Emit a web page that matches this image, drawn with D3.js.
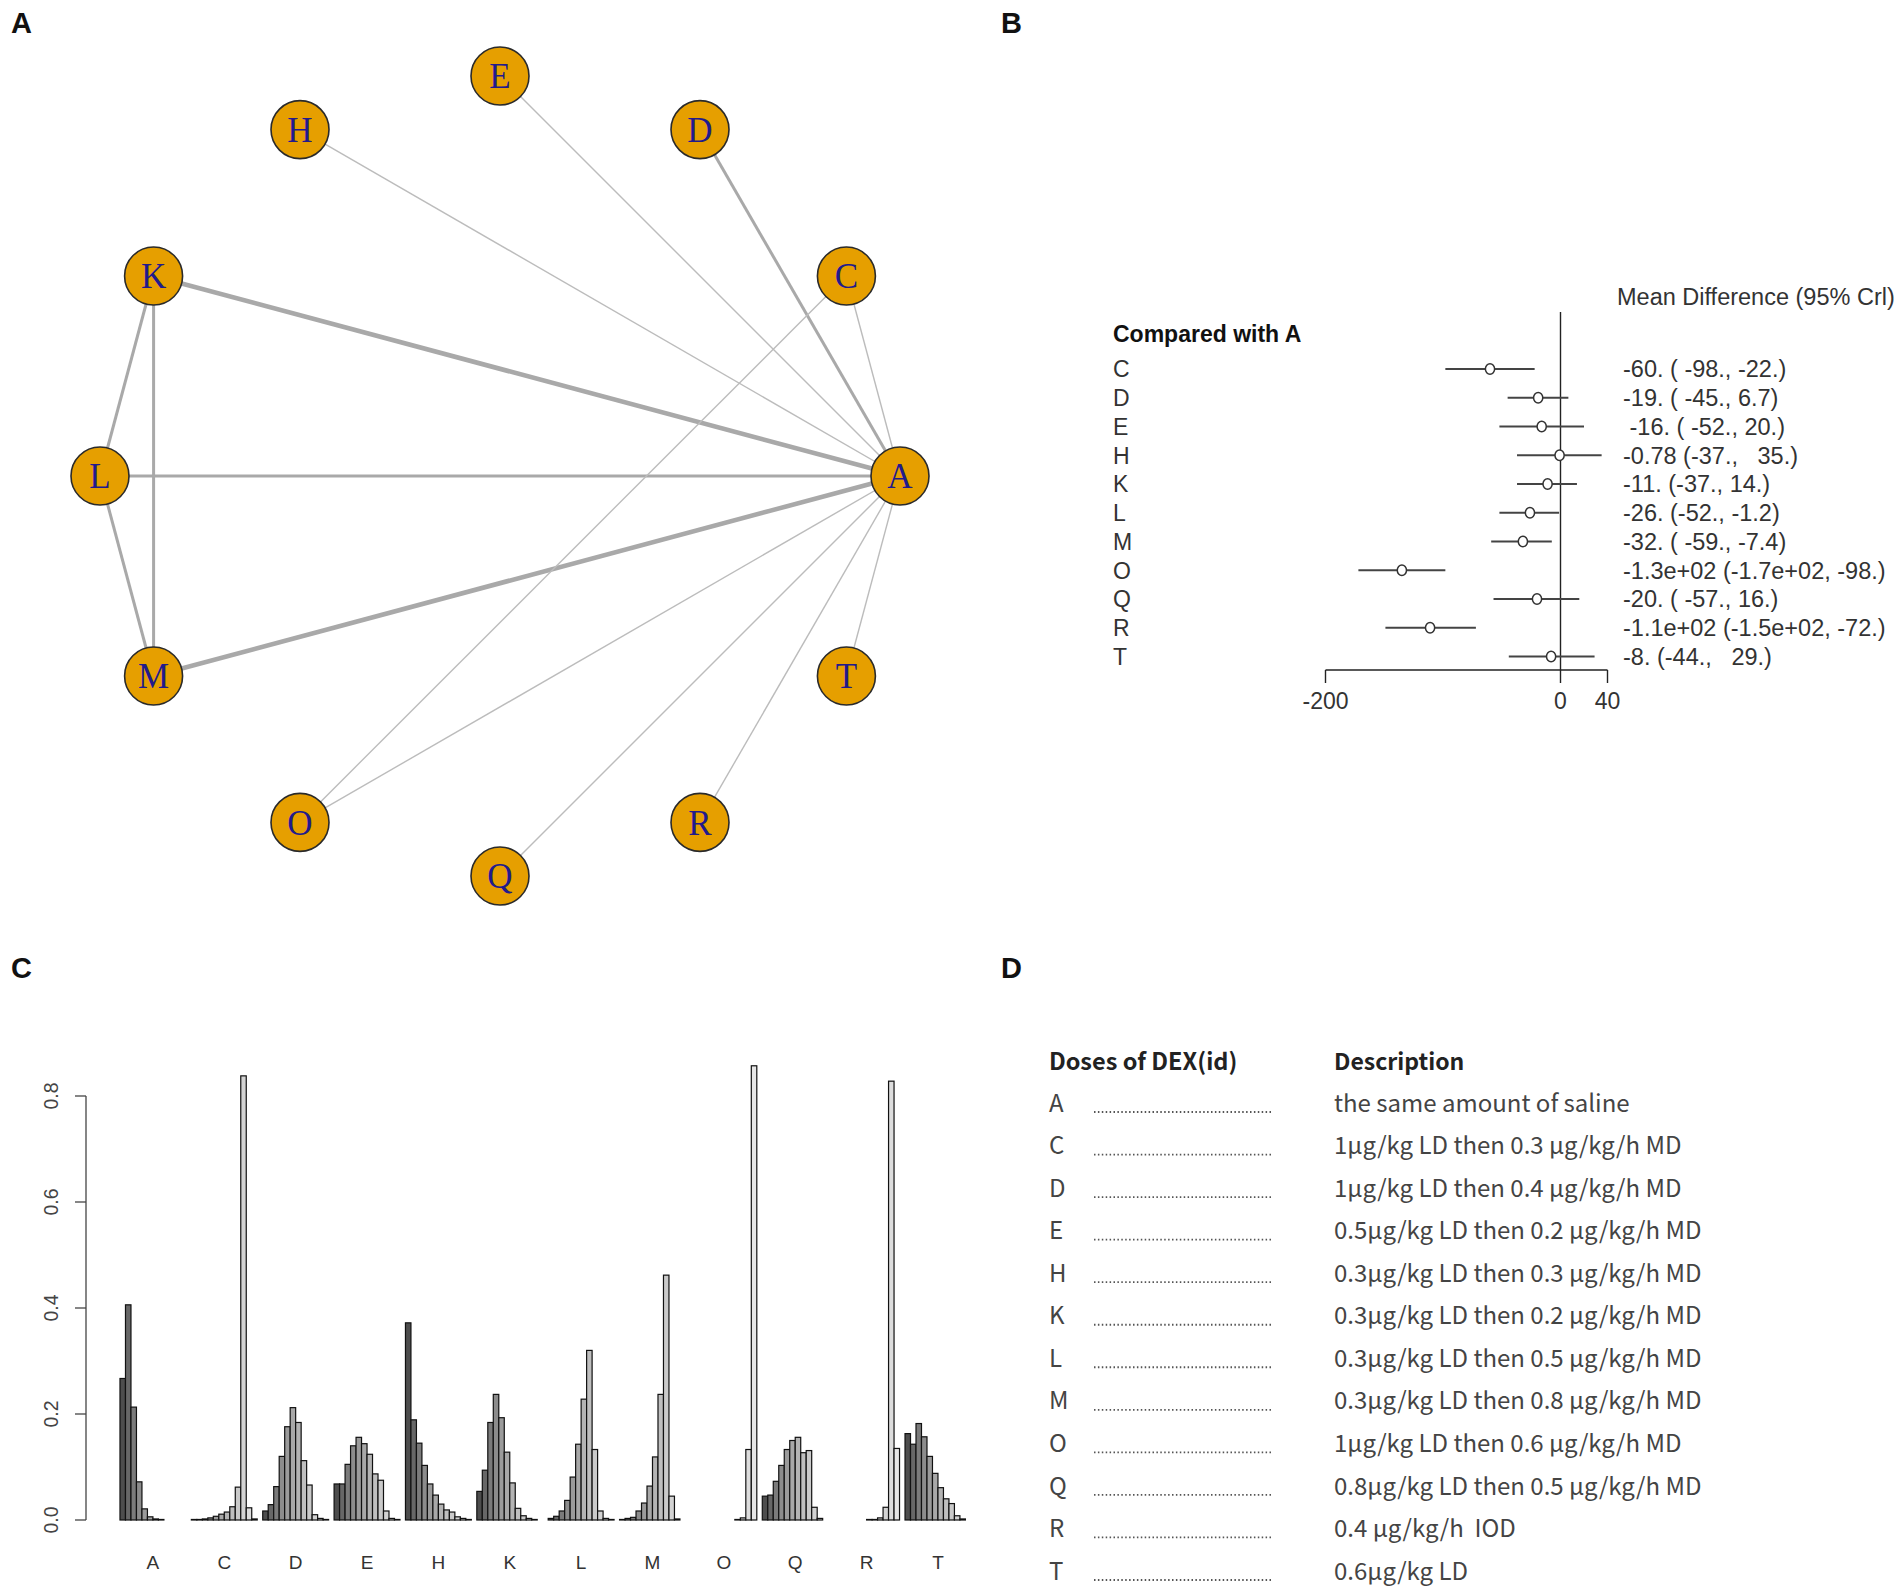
<!DOCTYPE html>
<html>
<head>
<meta charset="utf-8">
<script src="https://cdn.jsdelivr.net/npm/d3@7"></script>
<style>
  html, body { margin: 0; padding: 0; background: #fff; }
  svg text { white-space: pre; }
</style>
</head>
<body>
<svg id="chart" width="1902" height="1590"></svg>
<script>
// ---------------- DATA ----------------
// Panel A: network
const treatments = ["A","C","D","E","H","K","L","M","O","Q","R","T"];
const edgeFrom    = ["A","A","A","A","A","A","A","A","A","A","A","C","K","K","L"];
const edgeTo      = ["C","D","E","H","K","L","M","O","Q","R","T","O","L","M","M"];
const edgeStudies = [ 1,  2,  1,  1,  3,  2,  3,  1,  1,  1,  1,  1,  2,  2,  2 ];

// Panel B: forest plot (mean difference vs A)
const forestTreat = ["C","D","E","H","K","L","M","O","Q","R","T"];
const forestMean  = [-60, -19, -16, -0.78, -11, -26, -32, -135, -20, -111, -8];
const forestLow   = [-98, -45, -52, -37, -37, -52, -59, -172, -57, -149, -44];
const forestHigh  = [-22, 6.7, 20, 35, 14, -1.2, -7.4, -98, 16, -72, 29];
const forestText  = ["-60. ( -98., -22.)", "-19. ( -45., 6.7)", " -16. ( -52., 20.)",
  "-0.78 (-37.,   35.)", "-11. (-37., 14.)", "-26. (-52., -1.2)", "-32. ( -59., -7.4)",
  "-1.3e+02 (-1.7e+02, -98.)", "-20. ( -57., 16.)", "-1.1e+02 (-1.5e+02, -72.)", "-8. (-44.,   29.)"];
const forestTicks = [-200, 0, 40];

// Panel C: rank probabilities (ranks 1..12) per treatment
const rankA = [0.267, 0.406, 0.213, 0.072, 0.021, 0.006, 0.002, 0.001, 0, 0, 0, 0];
const rankC = [0.001, 0.001, 0.002, 0.004, 0.007, 0.011, 0.015, 0.025, 0.062, 0.838, 0.023, 0.002];
const rankD = [0.017, 0.029, 0.063, 0.120, 0.176, 0.212, 0.184, 0.112, 0.066, 0.010, 0.003, 0.001];
const rankE = [0.068, 0.068, 0.105, 0.140, 0.156, 0.144, 0.124, 0.087, 0.075, 0.017, 0.003, 0.001];
const rankH = [0.372, 0.189, 0.145, 0.103, 0.068, 0.047, 0.030, 0.019, 0.015, 0.006, 0.003, 0.001];
const rankK = [0.054, 0.094, 0.184, 0.237, 0.193, 0.128, 0.070, 0.022, 0.008, 0.003, 0.001, 0];
const rankL = [0.003, 0.007, 0.017, 0.037, 0.081, 0.143, 0.228, 0.320, 0.133, 0.017, 0.003, 0.001];
const rankM = [0.001, 0.003, 0.005, 0.017, 0.032, 0.064, 0.119, 0.237, 0.462, 0.045, 0.002, 0];
const rankO = [0, 0, 0, 0, 0, 0, 0, 0, 0.001, 0.004, 0.133, 0.857];
const rankQ = [0.045, 0.047, 0.073, 0.103, 0.133, 0.150, 0.156, 0.127, 0.131, 0.024, 0.003, 0];
const rankR = [0, 0, 0, 0, 0, 0, 0.001, 0.001, 0.004, 0.024, 0.828, 0.135];
const rankT = [0.163, 0.143, 0.182, 0.157, 0.120, 0.088, 0.061, 0.040, 0.031, 0.008, 0.002, 0];
const yTicks = [0, 0.2, 0.4, 0.6, 0.8];

// Panel D: dose descriptions
const doseIds = ["A","C","D","E","H","K","L","M","O","Q","R","T"];
const doseDesc = ["the same amount of saline",
  "1μg/kg LD then 0.3 μg/kg/h MD",
  "1μg/kg LD then 0.4 μg/kg/h MD",
  "0.5μg/kg LD then 0.2 μg/kg/h MD",
  "0.3μg/kg LD then 0.3 μg/kg/h MD",
  "0.3μg/kg LD then 0.2 μg/kg/h MD",
  "0.3μg/kg LD then 0.5 μg/kg/h MD",
  "0.3μg/kg LD then 0.8 μg/kg/h MD",
  "1μg/kg LD then 0.6 μg/kg/h MD",
  "0.8μg/kg LD then 0.5 μg/kg/h MD",
  "0.4 μg/kg/h  IOD",
  "0.6μg/kg LD"];

// ---------------- DRAW ----------------
const svg = d3.select("#chart");
svg.append("rect").attr("width", 1902).attr("height", 1590).attr("fill", "#fff");
const SANS = "'Liberation Sans', Arial, sans-serif";

// panel letters
const panelLetters = [["A", 11, 33], ["B", 1001, 33], ["C", 11, 978], ["D", 1001, 978]];
svg.selectAll("text.panel").data(panelLetters).join("text")
  .attr("class", "panel")
  .attr("x", d => d[1])
  .attr("y", d => d[2])
  .attr("font-family", SANS).attr("font-weight", "bold").attr("font-size", 29)
  .attr("fill", "#111")
  .text(d => d[0]);

// ---- Panel A: network ----
const gA = svg.append("g");
const cx = 500, cy = 476, R = 400;
const angle = d3.scaleLinear().domain([0, treatments.length]).range([0, 2 * Math.PI]);
const pos = {};
treatments.forEach((t, i) => {
  pos[t] = [cx + R * Math.cos(angle(i)), cy - R * Math.sin(angle(i))];
});
const wScale = d3.scaleLinear().domain([1, 3]).range([1.4, 4.6]);
const edges = edgeFrom.map((f, i) => ({ f, t: edgeTo[i], n: edgeStudies[i] }));
gA.selectAll("line.edge").data(edges).join("line")
  .attr("class", "edge")
  .attr("x1", d => pos[d.f][0]).attr("y1", d => pos[d.f][1])
  .attr("x2", d => pos[d.t][0]).attr("y2", d => pos[d.t][1])
  .attr("stroke", d => d.n > 1 ? "#a9a9a9" : "#bcbcbc")
  .attr("stroke-width", d => wScale(d.n));
const nodes = gA.selectAll("g.node").data(treatments).join("g")
  .attr("class", "node")
  .attr("transform", d => `translate(${pos[d][0]},${pos[d][1]})`);
nodes.append("circle").attr("r", 29)
  .attr("fill", "#E69F00").attr("stroke", "#2a2a2a").attr("stroke-width", 1.6);
nodes.append("text")
  .attr("text-anchor", "middle").attr("dy", "0.35em")
  .attr("font-family", "'Liberation Serif', 'Times New Roman', serif")
  .attr("font-size", 35).attr("fill", "#221a8c")
  .text(d => d);

// ---- Panel B: forest ----
const gB = svg.append("g");
const fx = d3.scaleLinear().domain([-200, 40]).range([1325.5, 1607.5]);
const fy = d3.scalePoint().domain(forestTreat).range([369, 656.5]);
const axisY = 670;
gB.append("line").attr("x1", fx(0)).attr("x2", fx(0)).attr("y1", 312).attr("y2", axisY)
  .attr("stroke", "#222").attr("stroke-width", 1.4);
gB.append("line").attr("x1", fx(-200)).attr("x2", fx(40)).attr("y1", axisY).attr("y2", axisY)
  .attr("stroke", "#222").attr("stroke-width", 1.4);
gB.selectAll("line.ftick").data(forestTicks).join("line").attr("class", "ftick")
  .attr("x1", d => fx(d)).attr("x2", d => fx(d)).attr("y1", axisY).attr("y2", axisY + 13)
  .attr("stroke", "#222").attr("stroke-width", 1.4);
gB.selectAll("text.ftl").data(forestTicks).join("text").attr("class", "ftl")
  .attr("x", d => fx(d)).attr("y", axisY + 39)
  .attr("text-anchor", "middle").attr("font-family", SANS).attr("font-size", 23).attr("fill", "#333")
  .text(d => d);
gB.append("text").attr("x", 1617).attr("y", 305)
  .attr("font-family", SANS).attr("font-size", 23.5).attr("fill", "#333")
  .text("Mean Difference (95% Crl)");
gB.append("text").attr("x", 1113).attr("y", 342)
  .attr("font-family", SANS).attr("font-weight", "bold").attr("font-size", 23).attr("fill", "#111")
  .text("Compared with A");
const rows = forestTreat.map((t, i) => ({ t, m: forestMean[i], lo: forestLow[i], hi: forestHigh[i], s: forestText[i] }));
gB.selectAll("line.ci").data(rows).join("line").attr("class", "ci")
  .attr("x1", d => fx(d.lo)).attr("x2", d => fx(d.hi))
  .attr("y1", d => fy(d.t)).attr("y2", d => fy(d.t))
  .attr("stroke", "#444").attr("stroke-width", 2);
gB.selectAll("ellipse.pt").data(rows).join("ellipse").attr("class", "pt")
  .attr("cx", d => fx(d.m)).attr("cy", d => fy(d.t)).attr("rx", 4.6).attr("ry", 5.2)
  .attr("fill", "#fff").attr("stroke", "#333").attr("stroke-width", 1.5);
gB.selectAll("text.rl").data(rows).join("text").attr("class", "rl")
  .attr("x", 1113).attr("y", d => fy(d.t)).attr("dy", "0.36em")
  .attr("font-family", SANS).attr("font-size", 23).attr("fill", "#333")
  .text(d => d.t);
gB.selectAll("text.rt").data(rows).join("text").attr("class", "rt")
  .attr("x", 1623).attr("y", d => fy(d.t)).attr("dy", "0.36em")
  .attr("font-family", SANS).attr("font-size", 23.5).attr("fill", "#333")
  .text(d => d.s);

// ---- Panel C: rank barplot ----
const gC = svg.append("g");
const rankData = { A: rankA, C: rankC, D: rankD, E: rankE, H: rankH, K: rankK,
  L: rankL, M: rankM, O: rankO, Q: rankQ, R: rankR, T: rankT };
const yC = d3.scaleLinear().domain([0, 0.8]).range([1520, 1096]);
const xG = d3.scaleBand().domain(treatments).range([114.5, 970.9]).padding(0);
const bw = xG.bandwidth();
const xR = d3.scaleBand().domain(d3.range(12)).range([bw / 13, bw]).padding(0);
// R gray.colors(12, start=0.3, end=0.9, gamma=2.2)
const gam = 2.2;
const lev = d3.scaleLinear().domain([0, 11]).range([Math.pow(0.3, gam), Math.pow(0.9, gam)]);
const grayCol = i => { const v = Math.round(Math.pow(lev(i), 1 / gam) * 255); return `rgb(${v},${v},${v})`; };
const bars = [];
treatments.forEach(t => rankData[t].forEach((v, r) => bars.push({ t, r, v })));
gC.selectAll("rect.bar").data(bars).join("rect").attr("class", "bar")
  .attr("x", d => xG(d.t) + xR(d.r)).attr("width", xR.bandwidth())
  .attr("y", d => yC(d.v)).attr("height", d => yC(0) - yC(d.v))
  .attr("fill", d => grayCol(d.r)).attr("stroke", "#111").attr("stroke-width", 1.2);
const axX = 86;
gC.append("line").attr("x1", axX).attr("x2", axX).attr("y1", yC(0)).attr("y2", yC(0.8))
  .attr("stroke", "#444").attr("stroke-width", 1.3);
gC.selectAll("line.yt").data(yTicks).join("line").attr("class", "yt")
  .attr("x1", axX - 11).attr("x2", axX).attr("y1", d => yC(d)).attr("y2", d => yC(d))
  .attr("stroke", "#444").attr("stroke-width", 1.3);
gC.selectAll("text.ytl").data(yTicks).join("text").attr("class", "ytl")
  .attr("transform", d => `translate(58,${yC(d)}) rotate(-90)`)
  .attr("text-anchor", "middle")
  .attr("font-family", SANS).attr("font-size", 19.5).attr("fill", "#444")
  .text(d => d.toFixed(1));
gC.selectAll("text.gl").data(treatments).join("text").attr("class", "gl")
  .attr("x", d => xG(d) + bw * 7 / 13).attr("y", 1569)
  .attr("text-anchor", "middle")
  .attr("font-family", SANS).attr("font-size", 19).attr("fill", "#333")
  .text(d => d);

// ---- Panel D: table ----
const gD = svg.append("g");
const CJK = "'Noto Sans CJK SC', 'Noto Sans', sans-serif";
const yD = d3.scalePoint().domain(doseIds).range([1103, 1571]);
gD.append("text").attr("x", 1049).attr("y", 1062).attr("dy", "0.36em")
  .attr("font-family", CJK).attr("font-weight", "bold").attr("font-size", 23.5).attr("fill", "#222")
  .text("Doses of DEX(id)");
gD.append("text").attr("x", 1334).attr("y", 1062).attr("dy", "0.36em")
  .attr("font-family", CJK).attr("font-weight", "bold").attr("font-size", 23).attr("fill", "#222")
  .text("Description");
const drows = doseIds.map((d, i) => ({ d, s: doseDesc[i] }));
gD.selectAll("text.did").data(drows).join("text").attr("class", "did")
  .attr("x", 1049).attr("y", d => yD(d.d)).attr("dy", "0.36em")
  .attr("font-family", CJK).attr("font-size", 24).attr("fill", "#444")
  .text(d => d.d);
gD.selectAll("line.dots").data(drows).join("line").attr("class", "dots")
  .attr("x1", 1094).attr("x2", 1272)
  .attr("y1", d => yD(d.d) + 9).attr("y2", d => yD(d.d) + 9)
  .attr("stroke", "#555").attr("stroke-width", 1.8).attr("stroke-dasharray", "1.5 2.4");
gD.selectAll("text.desc").data(drows).join("text").attr("class", "desc")
  .attr("x", 1334).attr("y", d => yD(d.d)).attr("dy", "0.36em")
  .attr("font-family", CJK).attr("font-size", 24).attr("fill", "#444")
  .text(d => d.s);
</script>
</body>
</html>
